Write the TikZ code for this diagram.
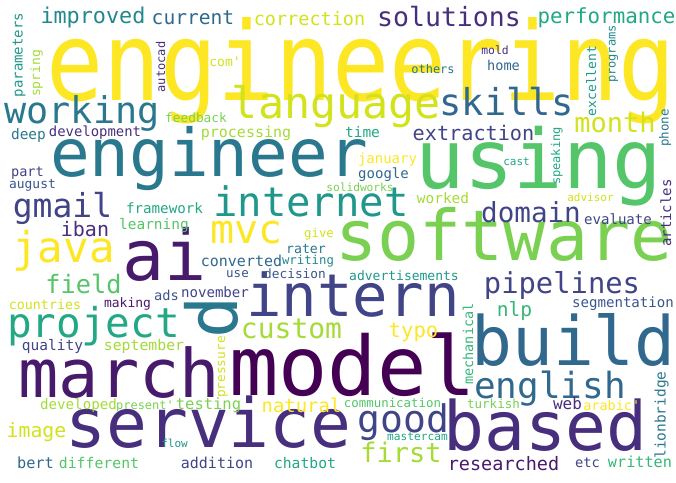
\documentclass[tikz,border=0pt]{standalone}
\usepackage{fontspec}
\usepackage{graphicx}
\setmonofont{DejaVu Sans Mono}
\definecolor{vA}{HTML}{440154}
\definecolor{vB}{HTML}{481A6C}
\definecolor{vC}{HTML}{472F7D}
\definecolor{vD}{HTML}{414487}
\definecolor{vE}{HTML}{39568C}
\definecolor{vF}{HTML}{31688E}
\definecolor{vG}{HTML}{2A788E}
\definecolor{vH}{HTML}{23888E}
\definecolor{vI}{HTML}{1F988B}
\definecolor{vJ}{HTML}{22A884}
\definecolor{vK}{HTML}{35B779}
\definecolor{vL}{HTML}{54C568}
\definecolor{vM}{HTML}{7AD151}
\definecolor{vN}{HTML}{A5DB36}
\definecolor{vO}{HTML}{D2E21B}
\definecolor{vP}{HTML}{FDE725}
\newcommand\wfs[1]{\ttfamily\fontsize{#1}{#1}\selectfont}
\tikzset{wd/.style={inner sep=0pt, outer sep=0pt, anchor=base}, wv/.style={wd, rotate=90}}
\begin{document}
\begin{tikzpicture}[x=1pt,y=-1pt]
\fill[white] (0,0) rectangle (676,482);
\useasboundingbox (0,0) rectangle (676,482);
% large words
\node[wd, text=vP, font=\wfs{95}] (engineering) at (360.9,100) {\scalebox{1}[1.15]{engineering}};
\node[wd, text=vG, font=\wfs{66}] (engineer) at (209,176) {engineer};
\node[wd, text=vL, font=\wfs{82}] (using) at (538.5,188) {using};
\node[wd, text=vM, font=\wfs{70}] (software) at (504,260) {software};
\node[wd, text=vB, font=\wfs{70}] (ai) at (165,280) {ai};
\node[wd, text=vD, font=\wfs{59}] (intern) at (353,316) {intern};
\node[wd, text=vA, font=\wfs{82}] (model) at (352.5,395) {model};
\node[wd, text=vB, font=\wfs{67}] (march) at (119.5,397) {march};
\node[wd, text=vF, font=\wfs{68}] (build) at (573.5,365) {build};
\node[wd, text=vC, font=\wfs{68}] (service) at (208.5,447) {service};
\node[wd, text=vC, font=\wfs{68}] (based) at (545.5,450) {based};
\node[wv, text=vG, font=\wfs{70}] (d) at (237,317.5) {d};
% medium words
\node[wd, text=vO, font=\wfs{43.4}] (language) at (336.5,118) {language};
\node[wd, text=vF, font=\wfs{37}] (skills) at (506.5,115) {skills};
\node[wd, text=vG, font=\wfs{36.8}] (working) at (82,123) {working};
\node[wd, text=vI, font=\wfs{40.6}] (internet) at (311,216) {internet};
\node[wd, text=vD, font=\wfs{33}] (gmail) at (62.5,217) {gmail};
\node[wd, text=vP, font=\wfs{42.5}] (java) at (63.5,262) {java};
\node[wd, text=vJ, font=\wfs{41}] (project) at (93.5,337) {project};
\node[wd, text=vN, font=\wfs{28}] (custom) at (291.5,338) {custom};
\node[wd, text=vF, font=\wfs{36}] (english) at (550,398) {english};
\node[wd, text=vD, font=\wfs{38}] (good) at (403.5,432) {good};
\node[wd, text=vN, font=\wfs{27}] (first) at (401,462) {first};
\node[wd, text=vD, font=\wfs{28.8}] (pipelines) at (562,293) {pipelines};
\node[wd, text=vD, font=\wfs{27.6}] (domain) at (531,222) {domain};
\node[wd, text=vP, font=\wfs{40}] (mvc) at (246.5,243) {mvc};
\node[wd, text=vL, font=\wfs{25.3}] (field) at (83.5,293) {field};
\node[wd, text=vH, font=\wfs{21.8}] (improved) at (93,23) {improved};
\node[wd, text=vF, font=\wfs{19.6}] (current) at (193,24) {current};
\node[wd, text=vO, font=\wfs{18.5}] (correction) at (309.5,25) {correction};
\node[wd, text=vC, font=\wfs{26.5}] (solutions) at (449,26) {solutions};
\node[wd, text=vJ, font=\wfs{20.8}] (performance) at (606.5,23) {performance};
\node[wd, text=vO, font=\wfs{27}] (month) at (615,132) {month};
\node[wd, text=vD, font=\wfs{20.2}] (extraction) at (473.5,140) {extraction};
\node[wd, text=vP, font=\wfs{18.9}] (natural) at (301.5,412) {natural};
\node[wd, text=vO, font=\wfs{19.8}] (image) at (36.5,437) {image};
\node[wd, text=vB, font=\wfs{18.5}] (researched) at (503.5,470) {researched};
\node[wd, text=vP, font=\wfs{20.6}] (typo) at (413.5,337) {typo};
\node[wd, text=vK, font=\wfs{19.6}] (nlp) at (514.5,316) {nlp};
\node[wd, text=vC, font=\wfs{20}] (iban) at (85,236) {iban};
% small words
\node[wd, text=vO, font=\wfs{13}] (com) at (225,66) {com'};
\node[wd, text=vM, font=\wfs{12.8}] (feedback) at (196,122) {feedback};
\node[wd, text=vG, font=\wfs{14.5}] (deep) at (28.5,139) {deep};
\node[wd, text=vC, font=\wfs{13.9}] (development) at (95,136) {development};
\node[wd, text=vN, font=\wfs{15}] (processing) at (246,137) {processing};
\node[wd, text=vC, font=\wfs{11.4}] (mold) at (495,54) {mold};
\node[wd, text=vF, font=\wfs{13.6}] (home) at (503.5,70) {home};
\node[wd, text=vG, font=\wfs{12}] (others) at (433,73) {others};
\node[wd, text=vJ, font=\wfs{14.5}] (time) at (362.5,137) {time};
\node[wd, text=vP, font=\wfs{14}] (january) at (387.5,163) {january};
\node[wd, text=vF, font=\wfs{14}] (google) at (383.5,178) {google};
\node[wd, text=vJ, font=\wfs{11}] (cast) at (516.5,165) {cast};
\node[wd, text=vM, font=\wfs{11.2}] (solidworks) at (360,191) {solidworks};
\node[wd, text=vN, font=\wfs{14.4}] (worked) at (443,203) {worked};
\node[wd, text=vO, font=\wfs{11}] (advisor) at (590.5,201) {advisor};
\node[wd, text=vD, font=\wfs{14.1}] (evaluate) at (618,224) {evaluate};
\node[wd, text=vI, font=\wfs{13}] (advertisements) at (404,280) {advertisements};
\node[wd, text=vE, font=\wfs{14.1}] (segmentation) at (623,307) {segmentation};
\node[wd, text=vD, font=\wfs{13.6}] (part) at (27.5,176) {part};
\node[wd, text=vE, font=\wfs{12.9}] (august) at (32.5,188) {august};
\node[wd, text=vJ, font=\wfs{14.2}] (framework) at (164.5,213) {framework};
\node[wd, text=vL, font=\wfs{14.5}] (learning) at (154,229) {learning};
\node[wd, text=vF, font=\wfs{15}] (converted) at (241.5,266) {converted};
\node[wd, text=vE, font=\wfs{12.5}] (use) at (237.5,277) {use};
\node[wd, text=vE, font=\wfs{12.8}] (decision) at (295,278) {decision};
\node[wd, text=vG, font=\wfs{13.2}] (rater) at (306,253) {rater};
\node[wd, text=vH, font=\wfs{12.3}] (writing) at (308,264) {writing};
\node[wd, text=vO, font=\wfs{12.3}] (give) at (319,237) {give};
\node[wd, text=vO, font=\wfs{13.3}] (countries) at (45,309) {countries};
\node[wd, text=vB, font=\wfs{13}] (making) at (127.5,307) {making};
\node[wd, text=vE, font=\wfs{13.7}] (ads) at (166.5,300) {ads};
\node[wd, text=vD, font=\wfs{14.1}] (november) at (215,297) {november};
\node[wd, text=vD, font=\wfs{14.5}] (quality) at (52.5,350) {quality};
\node[wd, text=vN, font=\wfs{14.8}] (september) at (144,350) {september};
\node[wd, text=vN, font=\wfs{14.2}] (developed) at (78.5,409) {developed};
\node[wd, text=vM, font=\wfs{12}] (present) at (145,409) {present'};
\node[wd, text=vM, font=\wfs{15.5}] (testing) at (208.5,409) {testing};
\node[wd, text=vL, font=\wfs{12.4}] (communication) at (392.5,407) {communication};
\node[wd, text=vM, font=\wfs{12.5}] (turkish) at (493.5,408) {turkish};
\node[wd, text=vC, font=\wfs{16}] (web) at (567.5,409) {web};
\node[wd, text=vP, font=\wfs{13.5}] (arabic) at (611.7,410) {arabic'};
\node[wd, text=vJ, font=\wfs{11.2}] (mastercam) at (417.5,440) {mastercam};
\node[wd, text=vI, font=\wfs{11}] (flow) at (174.5,447) {flow};
\node[wd, text=vF, font=\wfs{15.3}] (bert) at (35.5,468) {bert};
\node[wd, text=vL, font=\wfs{14.8}] (different) at (99,468) {different};
\node[wd, text=vD, font=\wfs{15}] (addition) at (217,468) {addition};
\node[wd, text=vJ, font=\wfs{14.7}] (chatbot) at (305,468) {chatbot};
\node[wd, text=vD, font=\wfs{13.7}] (etc) at (587.5,467) {etc};
\node[wd, text=vK, font=\wfs{15.2}] (written) at (640,467) {written};
% vertical words
\node[wv, text=vI, font=\wfs{14}] (parameters) at (22.6,55) {parameters};
\node[wv, text=vN, font=\wfs{13}] (spring) at (40,73.5) {spring};
\node[wv, text=vC, font=\wfs{12}] (autocad) at (165,67) {autocad};
\node[wv, text=vH, font=\wfs{12}] (programs) at (615.5,54) {programs};
\node[wv, text=vI, font=\wfs{13}] (excellent) at (596,81) {excellent};
\node[wv, text=vG, font=\wfs{12.5}] (phone) at (668.5,128) {phone};
\node[wv, text=vJ, font=\wfs{12}] (speaking) at (560,156) {speaking};
\node[wv, text=vC, font=\wfs{14}] (articles) at (671,213) {articles};
\node[wv, text=vK, font=\wfs{13.5}] (mechanical) at (473,344) {mechanical};
\node[wv, text=vO, font=\wfs{12.8}] (pressure) at (225,367) {pressure};
\node[wv, text=vG, font=\wfs{14.5}] (lionbridge) at (665.5,415) {lionbridge};
\end{tikzpicture}
\end{document}
